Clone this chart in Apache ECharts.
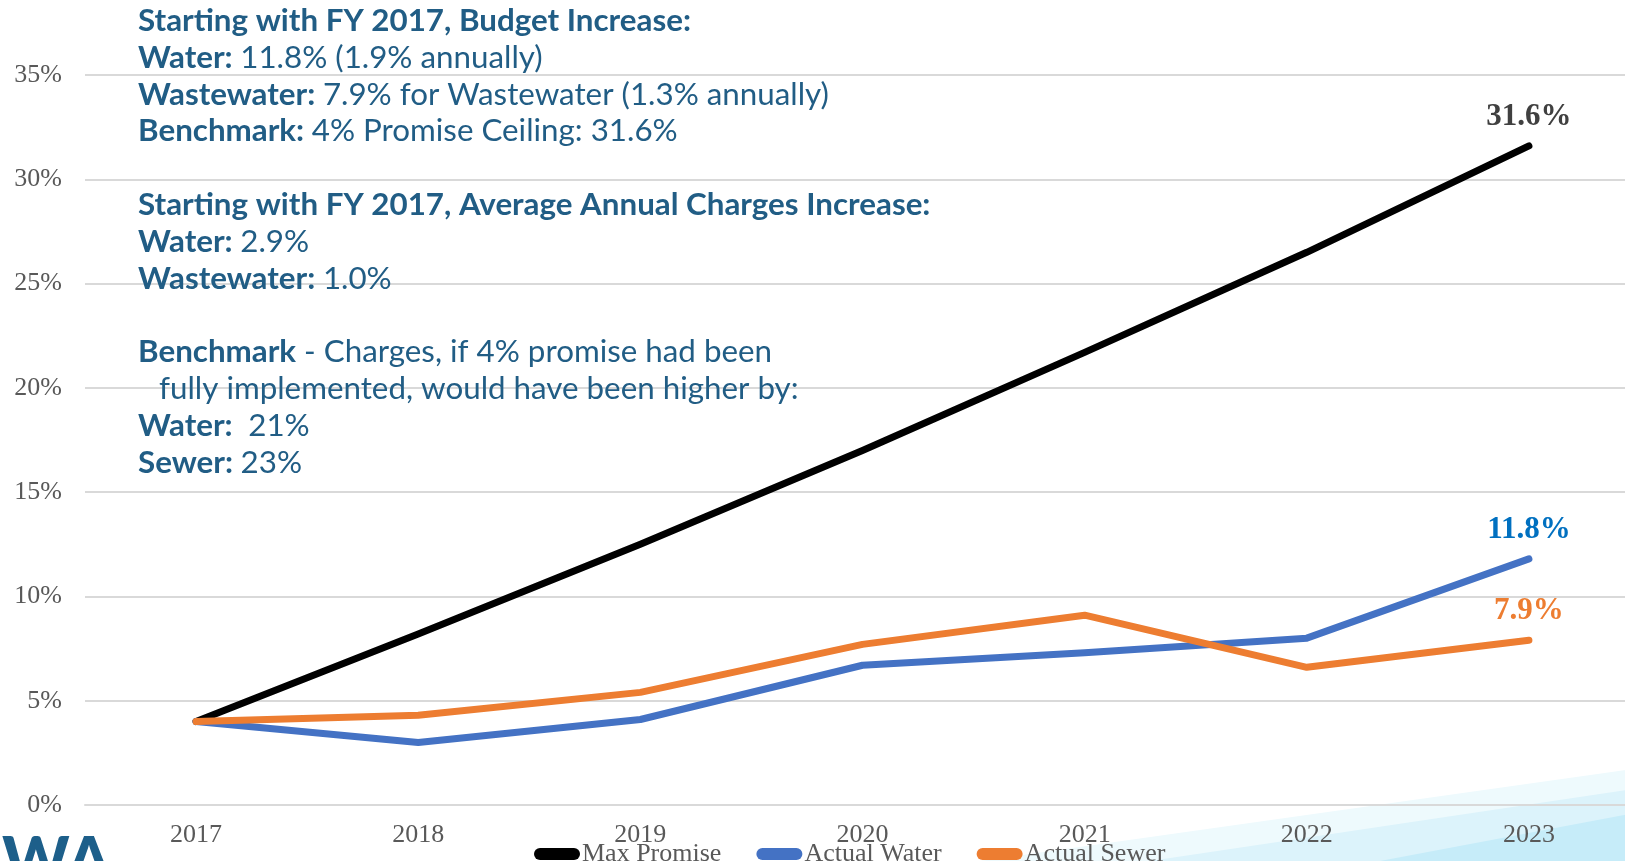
<!DOCTYPE html>
<html>
<head>
<meta charset="utf-8">
<script src="https://cdn.jsdelivr.net/npm/echarts@6/dist/echarts.min.js"></script>
<style>
html,body{margin:0;padding:0;background:#fff;overflow:hidden;width:1625px;height:861px;}
#chart{width:1640px;height:861px;}
</style>
</head>
<body>
<div id="chart"></div>
<script>
const years = ['2017','2018','2019','2020','2021','2022','2023'];
const maxPromise = [4.0, 8.2, 12.5, 17.0, 21.7, 26.5, 31.6];
const actualWater = [4.0, 3.0, 4.1, 6.7, 7.3, 8.0, 11.8];
const actualSewer = [4.0, 4.3, 5.4, 7.7, 9.1, 6.6, 7.9];
const seriesNames = ['Max Promise', 'Actual Water', 'Actual Sewer'];
const yTicks = [0, 5, 10, 15, 20, 25, 30, 35];

const noteLines = [
  [['b','Starting with FY 2017, Budget Increase:']],
  [['b','Water: '],['n','11.8% (1.9% annually)']],
  [['b','Wastewater: '],['n','7.9% for Wastewater (1.3% annually)']],
  [['b','Benchmark: '],['n','4% Promise Ceiling: 31.6%']],
  null,
  [['b','Starting with FY 2017, Average Annual Charges Increase:']],
  [['b','Water: '],['n','2.9%']],
  [['b','Wastewater: '],['n','1.0%']],
  null,
  [['b','Benchmark'],['n',' - Charges, if 4% promise had been']],
  [['n','fully implemented, would have been higher by:']],
  [['b','Water: '],['n',' 21%']],
  [['b','Sewer: '],['n','23%']]
];

const noteFont = 'Lato, "Open Sans", sans-serif';
const noteSize = 31;
const noteColor = '#215d85';
const cv = document.createElement('canvas').getContext('2d');
cv.font = 'bold ' + noteSize + 'px ' + noteFont;
const w1 = cv.measureText('Starting with FY 2017, Budget Increase:').width;
const sx = 553 / w1;

const graphics = [];
graphics.push({type:'polygon', z:-10, silent:true, shape:{points:[[980,861],[1640,768],[1640,861]]}, style:{fill:'#eefafd'}});
graphics.push({type:'polygon', z:-9, silent:true, shape:{points:[[1150,861],[1640,788],[1640,861]]}, style:{fill:'#dcf3fb'}});
graphics.push({type:'polygon', z:-8, silent:true, shape:{points:[[1380,861],[1640,812],[1640,861]]}, style:{fill:'#c6ecf9'}});
graphics.push({type:'text', left:2, top:830, z:5, style:{text:'WA', font:'900 64px Lato, sans-serif', fill:'#1d5f8a'}});

let lineY = 21;
noteLines.forEach((ln, i) => {
  if (ln) {
    const txt = ln.map(p => '{' + p[0] + '|' + p[1] + '}').join('');
    const x = (i === 10) ? 159 : 138;
    graphics.push({
      type:'text', x:x, y:lineY, scaleX:sx, z:20,
      style:{
        text: txt, verticalAlign:'middle', align:'left',
        rich:{
          b:{fontFamily:noteFont, fontWeight:'bold', fontSize:noteSize, fill:noteColor, color:noteColor},
          n:{fontFamily:noteFont, fontWeight:'normal', fontSize:noteSize, fill:noteColor, color:noteColor}
        }
      }
    });
  }
  lineY += 36.8;
});

function withEndLabel(arr, color) {
  return arr.map((v, i) => i === arr.length - 1 ? {
    value: v,
    label: {show:true, position:'top', distance:13, formatter: p => Number(p.value).toFixed(1) + '%',
      fontFamily:'"Liberation Serif", serif', fontWeight:'bold', fontSize:31, color: color}
  } : v);
}

function lineSeries(name, data, color, labelColor, z) {
  return {name:name, type:'line', data:withEndLabel(data, labelColor), symbol:'circle', symbolSize:1,
    showSymbol:true, color:color, z:z, itemStyle:{color:color},
    lineStyle:{width:7, color:color, cap:'round', join:'round'}};
}

const chart = echarts.init(document.getElementById('chart'), null, {renderer:'canvas'});
chart.setOption({
  animation:false,
  backgroundColor:'#ffffff',
  grid:{left:85, right:0, top:75, bottom:56, containLabel:false},
  xAxis:{
    type:'category', data:years, boundaryGap:true,
    axisLine:{show:true, lineStyle:{color:'#d9d9d9', width:2}},
    axisTick:{show:false},
    axisLabel:{margin:17, fontFamily:'"Liberation Serif", serif', fontSize:26, color:'#595959'}
  },
  yAxis:{
    type:'value', min:yTicks[0], max:yTicks[yTicks.length-1], interval:5,
    axisLine:{show:false}, axisTick:{show:false},
    splitLine:{lineStyle:{color:'#d9d9d9', width:2}},
    axisLabel:{margin:23, formatter:'{value}%', fontFamily:'"Liberation Serif", serif', fontSize:26, color:'#595959'}
  },
  legend:{
    data:seriesNames, left:529, top:836, itemGap:35, itemWidth:46, itemHeight:13,
    icon:'path://M6,0 H40 A6,6 0 0 1 40,12 H6 A6,6 0 0 1 6,0 Z',
    textStyle:{fontFamily:'"Liberation Serif", serif', fontSize:26, color:'#595959', padding:[0,0,0,-3]}
  },
  graphic: graphics,
  series:[
    lineSeries(seriesNames[0], maxPromise, '#000000', '#404040', 3),
    lineSeries(seriesNames[1], actualWater, '#4472c4', '#0070c0', 4),
    lineSeries(seriesNames[2], actualSewer, '#ed7d31', '#ed7d31', 5)
  ]
});
</script>
</body>
</html>
